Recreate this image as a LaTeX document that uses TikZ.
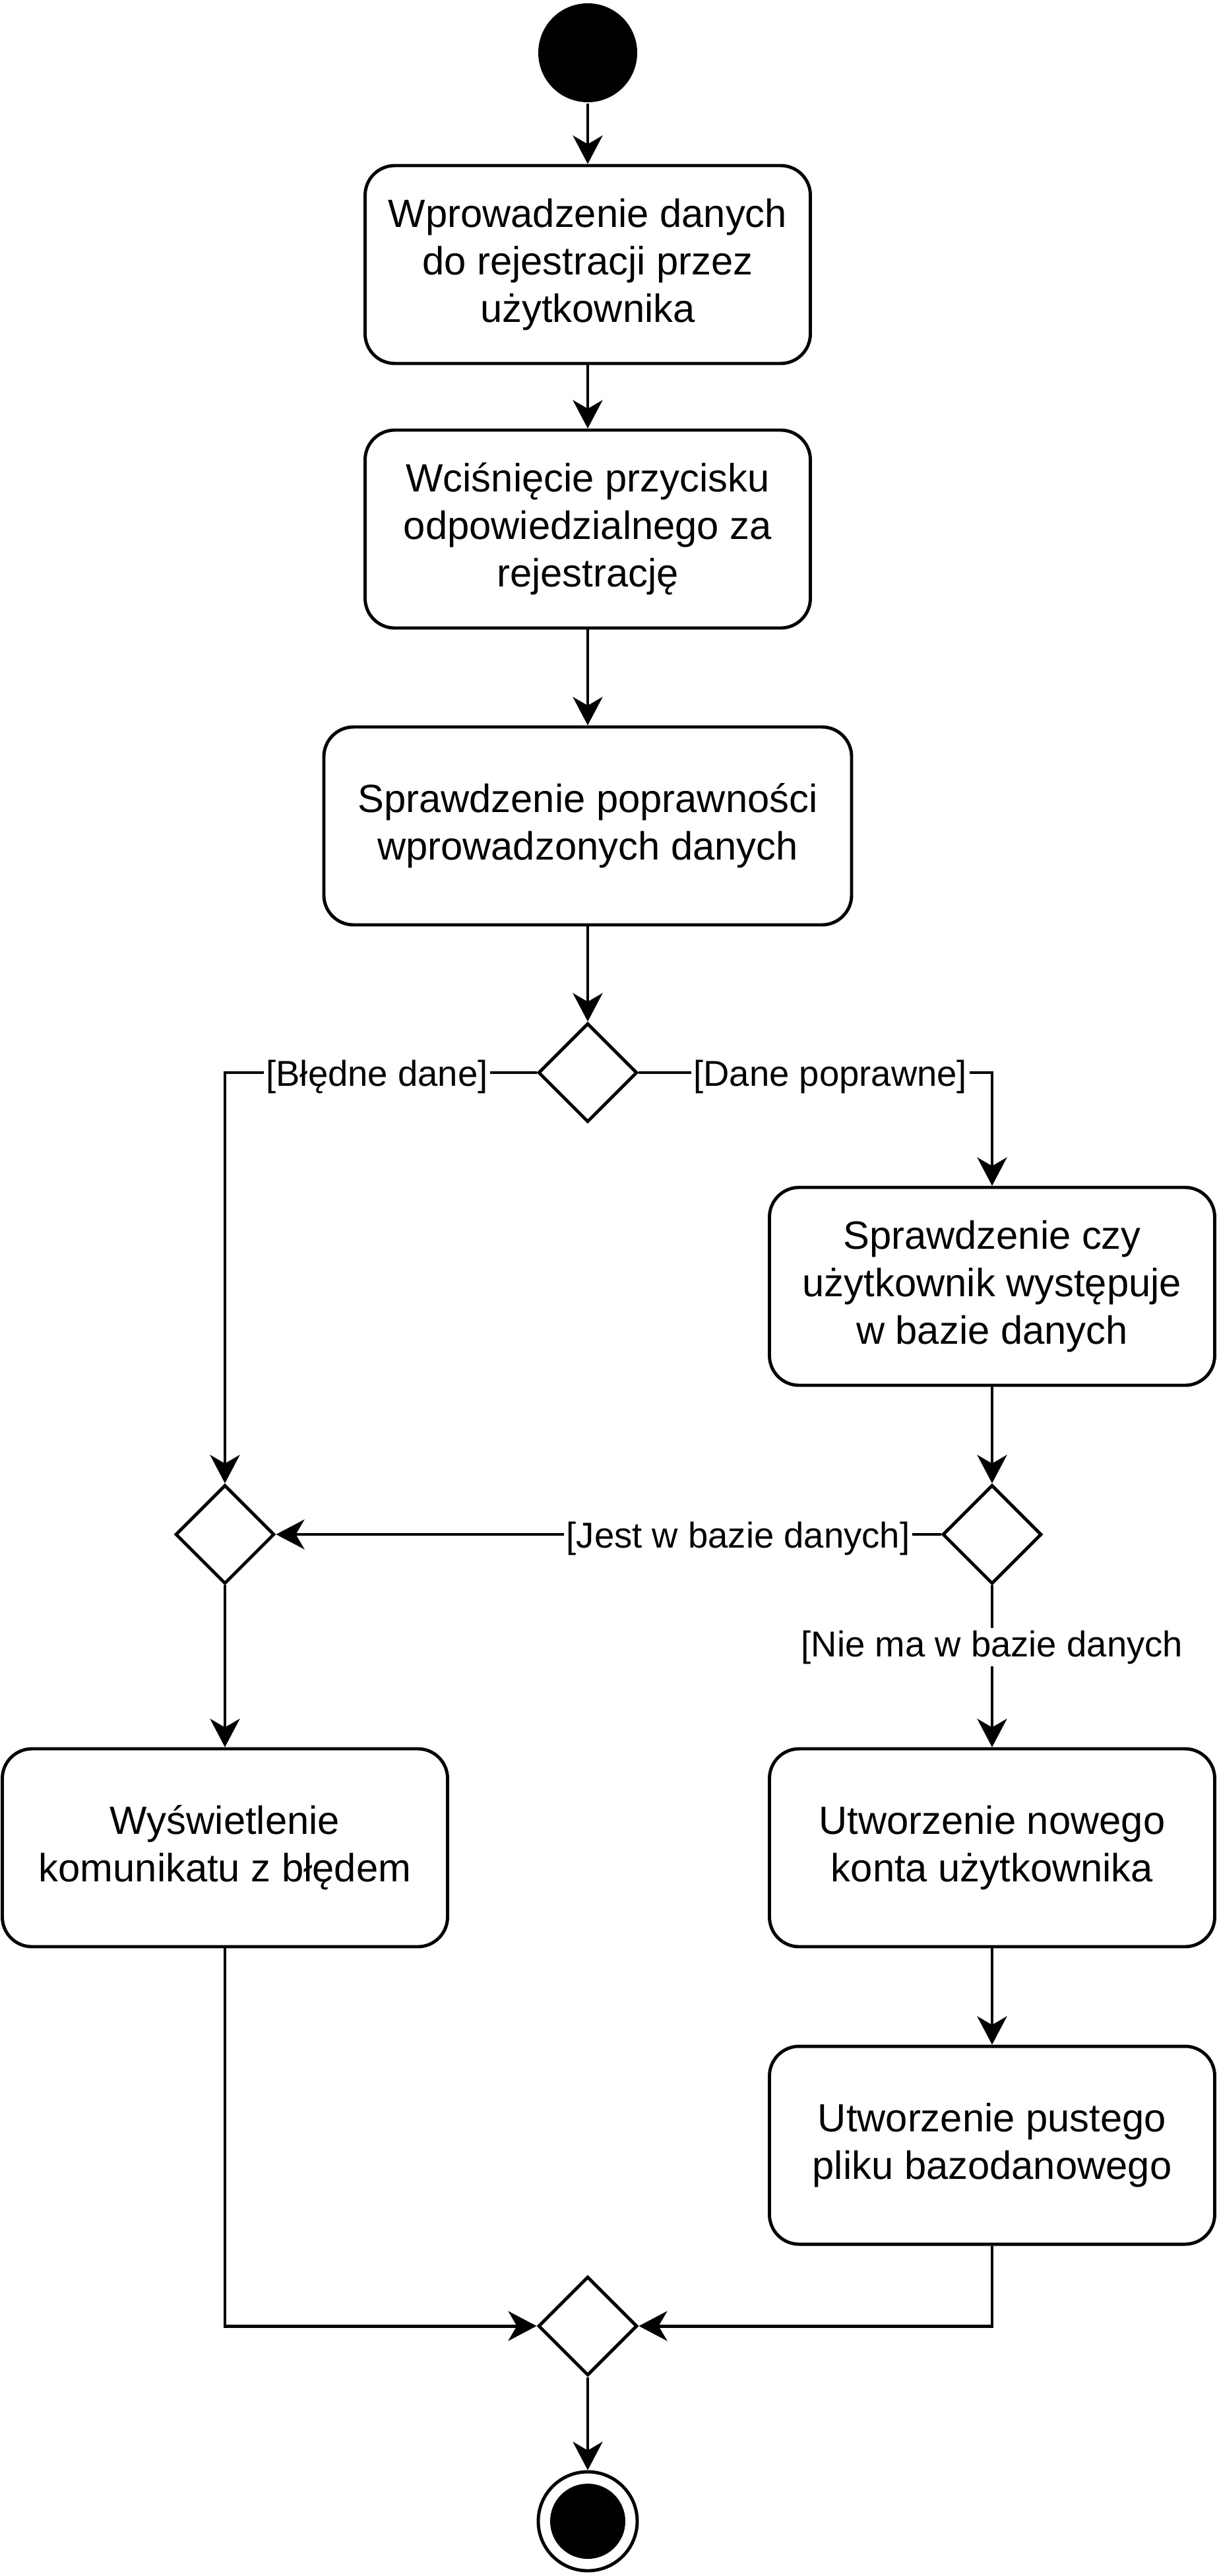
\documentclass[tikz,border=0pt]{standalone}
\usepackage{fontspec}
\setmainfont{Liberation Sans}
\usetikzlibrary{shapes.geometric,arrows.meta}

\begin{document}
\begin{tikzpicture}[line width=1.4pt,
        akcja/.style={draw,rounded corners=0.45cm,minimum width=6.75cm,minimum height=3cm,align=center,
        font=\fontsize{17}{20.5}\selectfont},
        decyzja/.style={draw,diamond,minimum size=1.5cm,inner sep=0pt},
        straz/.style={fill=white,inner sep=1pt,yshift=-0.06cm,font=\fontsize{15.5}{18.6}\selectfont},
        przejscie/.style={-{Stealth[length=4.3mm,width=4.5mm,inset=1.3mm]}}]
        \useasboundingbox (0,0) rectangle (18.45,-39.05);
        \node[circle,fill,minimum size=1.5cm,inner sep=0pt] (start) at (8.91,-0.80) {};
        \node[akcja] (b1) at (8.91,-4.01) {Wprowadzenie danych\\do rejestracji przez\\użytkownika};
        \node[akcja] (b2) at (8.91,-8.02) {Wciśnięcie przycisku\\odpowiedzialnego za\\rejestrację};
        \node[akcja,minimum width=8cm] (b3) at (8.91,-12.52) {Sprawdzenie poprawności\\wprowadzonych danych};
        \node[decyzja] (d1) at (8.91,-16.26) {};
        \node[akcja] (b4) at (15.04,-19.50) {Sprawdzenie czy\\użytkownik występuje\\w bazie danych};
        \node[decyzja] (d2) at (3.41,-23.26) {};
        \node[decyzja] (d3) at (15.04,-23.26) {};
        \node[akcja] (b7) at (3.41,-28.01) {Wyświetlenie\\komunikatu z błędem};
        \node[akcja] (b5) at (15.04,-28.01) {Utworzenie nowego\\konta użytkownika};
        \node[akcja] (b6) at (15.04,-32.52) {Utworzenie pustego\\pliku bazodanowego};
        \node[decyzja] (d4) at (8.91,-35.26) {};
        \node[circle,draw,minimum size=1.5cm,inner sep=0pt] (koniec) at (8.91,-38.22) {};
        \node[circle,fill,minimum size=1.14cm,inner sep=0pt] (koniecw) at (koniec) {};
        \draw[przejscie] (start)--(b1);
        \draw[przejscie] (b1)--(b2);
        \draw[przejscie] (b2)--(b3);
        \draw[przejscie] (b3)--(d1);
        \draw[przejscie] (d1.west) -| node[straz,pos=0.256] {[Błędne dane]} (d2.north);
        \draw[przejscie] (d1.east) -| node[straz,pos=0.271] {[Dane poprawne]} (b4.north);
        \draw[przejscie] (b4)--(d3);
        \draw[przejscie] (d3.west)-- node[straz,pos=0.305] {[Jest w bazie danych]} (d2.east);
        \draw[przejscie] (d3.south)-- node[straz,pos=0.357] {[Nie ma w bazie danych} (b5.north);
        \draw[przejscie] (d2.south)--(b7.north);
        \draw[przejscie] (b5)--(b6);
        \draw[przejscie] (b7.south) |- (d4.west);
        \draw[przejscie] (b6.south) |- (d4.east);
        \draw[przejscie] (d4)--(koniec);
\end{tikzpicture}
\end{document}
